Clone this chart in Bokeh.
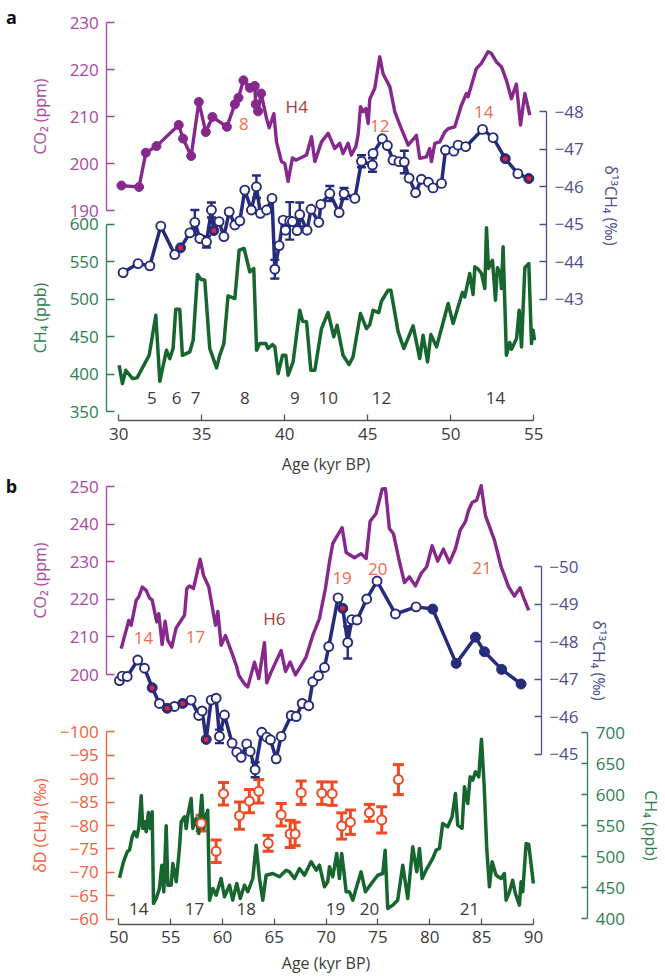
from bokeh.plotting import figure
from bokeh.models import Range1d, LinearAxis, FixedTicker, ColumnDataSource, Whisker, TeeHead, Label
from bokeh.layouts import column
from bokeh.embed import file_html
from bokeh.resources import INLINE

# ---------------- data: panel a ----------------
co2_a_age = [30.16, 31.22, 31.63, 32.27, 33.61, 33.87, 34.36, 34.82, 35.24, 35.64, 36.51, 36.99, 37.21, 37.51,
             37.89, 38.19, 38.25, 38.39, 38.57,
             38.90, 39.06, 39.34, 39.50, 39.80, 40.00, 40.20, 40.46, 40.66, 41.31, 41.61, 41.81, 42.21, 42.61,
             43.01, 43.31, 43.51, 43.81, 44.01, 44.28, 44.42, 44.56, 44.72, 44.88, 45.02, 45.12, 45.42, 45.72,
             45.92, 46.33, 46.63, 46.93, 47.43, 47.93, 48.13, 48.53, 48.73, 48.83, 49.04, 49.34, 49.64, 49.84,
             50.24, 50.64, 50.94, 51.04, 51.54, 51.84, 52.25, 52.45, 52.75, 53.05, 53.35, 53.65, 53.95, 54.20,
             54.46, 54.76]
co2_a_ppm = [195.3, 195.0, 202.3, 203.7, 208.2, 205.3, 201.6, 213.1, 206.7, 209.9, 207.8, 212.6, 214.0, 217.7,
             216.1, 216.5, 212.6, 211.1, 214.9,
             209.6, 207.6, 210.6, 204.6, 200.4, 200.0, 196.2, 201.2, 200.7, 201.8, 205.7, 200.4, 204.6, 206.4,
             203.2, 204.3, 202.1, 204.3, 201.8, 203.6, 206.2, 212.1, 211.0, 211.7, 208.5, 213.7, 216.0, 222.7,
             219.1, 216.3, 211.0, 208.2, 203.9, 206.0, 201.1, 201.4, 203.2, 200.4, 204.3, 204.6, 206.7, 207.4,
             207.8, 212.4, 214.9, 214.2, 220.2, 221.3, 223.8, 223.4, 221.6, 220.6, 217.7, 213.8, 216.9, 208.2,
             214.9, 210.3]
co2_a_n_markers = 19

d13_a_age = [30.26, 31.16, 31.87, 32.53, 33.37, 33.72, 34.28, 34.58, 34.88, 35.28, 35.58, 35.72, 36.04, 36.33,
             36.65, 36.99, 37.29, 37.59, 37.99, 38.29, 38.53, 38.90, 39.23, 39.40, 39.66, 39.90, 40.04, 40.30,
             40.46, 40.74, 40.90, 41.34, 41.58, 42.05, 42.17, 42.71, 43.27, 43.57, 44.22, 44.62, 45.28, 45.32,
             45.87, 46.18, 46.52, 46.88, 47.20, 47.49, 47.88, 48.23, 48.65, 48.93, 49.44, 49.68, 50.18, 50.44,
             50.90, 51.91, 52.55, 53.28, 54.04, 54.70]
d13_a_val = [-43.71, -43.95, -43.89, -44.95, -44.19, -44.37, -44.77, -45.05, -44.62, -44.53, -45.38, -44.83,
             -45.07, -44.67, -45.33, -44.98, -45.09, -45.91, -45.38, -46.00, -45.29, -45.38, -45.69, -43.80,
             -44.43, -45.11, -44.84, -45.09, -45.07, -44.83, -45.26, -44.84, -45.40, -45.05, -45.53, -45.82,
             -45.31, -45.82, -45.69, -46.68, -46.58, -46.89, -47.28, -47.10, -46.71, -46.67, -46.66, -46.23,
             -45.84, -46.20, -46.12, -45.97, -46.09, -46.98, -46.95, -47.11, -47.07, -47.53, -47.31, -46.75,
             -46.35, -46.22]
d13_a_err = [0, 0, 0, 0, 0, 0, 0, 0.33, 0, 0.15, 0.2, 0, 0, 0, 0, 0, 0, 0, 0, 0.3, 0, 0, 0, 0.25, 0, 0, 0, 0.5,
             0, 0, 0.32, 0, 0, 0, 0, 0.2, 0, 0.15, 0, 0.16, 0.18, 0, 0, 0, 0, 0, 0.3, 0, 0, 0, 0, 0, 0, 0, 0, 0,
             0, 0, 0, 0, 0, 0]
d13_a_kind = ["o"] * 62
for _i in (5, 11, 59, 61):
    d13_a_kind[_i] = "r"

ch4_a_age = [30.02, 30.22, 30.42, 30.83, 31.10, 31.83, 32.23, 32.47, 32.87, 33.07, 33.27, 33.43, 33.67, 33.83,
             34.28, 34.48, 34.74, 34.94, 35.18, 35.48, 35.89, 36.08, 36.33, 36.58, 36.99, 37.25, 37.55, 37.89,
             38.13, 38.30, 38.49, 38.86, 38.99, 39.26, 39.40, 39.60, 39.86, 40.06, 40.20, 40.50, 40.90, 41.07,
             41.31, 41.57, 41.81, 42.21, 42.61, 42.95, 43.15, 43.51, 43.87, 44.11, 44.56, 44.92, 45.12, 45.32,
             45.66, 45.82, 46.22, 46.39, 46.83, 47.17, 47.73, 48.13, 48.33, 48.60, 48.80, 49.14, 49.44, 49.84,
             50.14, 50.70, 50.84, 51.14, 51.34, 51.45, 51.65, 51.85, 52.05, 52.15, 52.27, 52.51, 52.69, 52.81,
             52.99, 53.05, 53.15, 53.35, 53.55, 53.66, 53.96, 54.12, 54.26, 54.46, 54.70, 54.86, 54.96, 55.04]
ch4_a_ppb = [412, 387.6, 405.3, 394.3, 395.2, 425.3, 478.7, 390.7, 432, 420.9, 434.3, 486.7, 486.7, 425.3, 429.9,
             445.3, 533, 526.7, 525.3, 434.3, 408.5, 425.3, 440.9, 504.5, 500.9, 565.3, 567.6, 536.5, 540.9, 432,
             440.9, 440.9, 434.3, 439.6, 436.5, 400.9, 425.3, 425.3, 398.7, 416.5, 485.3, 470.7, 469.9, 405.3,
             405.3, 460.9, 482.3, 449.9, 465.3, 425.3, 412.9, 423.1, 480.9, 460.9, 466.3, 485.3, 482.3, 497.3,
             512, 512, 456.5, 434.3, 464.5, 420.9, 452, 416.5, 452.9, 436.5, 460.9, 494.3, 467.6, 509, 503.2,
             534.3, 506.3, 543.2, 540, 534.3, 514.3, 595.2, 541, 552, 498.7, 541.9, 534.3, 514.3, 569.8, 425.3,
             442.3, 433.3, 447.6, 485.3, 436.5, 541.9, 547.6, 440.9, 458.7, 445.3]

# event labels panel a
orange_a_txt = ["8", "12", "14"]
orange_a_x = [37.53, 45.72, 51.99]
orange_a_y = [208.3, 207.9, 210.9]          # CO2 ppm
heinrich_a = ("H4", 40.72, 212.1)
num_a_txt = ["5", "6", "7", "8", "9", "10", "12", "14"]
num_a_x = [31.99, 33.48, 34.62, 37.59, 40.60, 42.62, 45.83, 52.69]
num_a_y = 368                                # CH4 ppb

# ---------------- data: panel b ----------------
co2_b_age = [50.23, 50.96, 51.19, 51.68, 51.93, 52.26, 52.64, 52.96, 53.22, 53.66, 53.86, 54.18, 54.47, 54.73,
             55.11, 55.53, 56.34, 56.56, 56.82, 57.20, 57.85, 58.17, 58.68, 59.07, 59.33, 59.55, 59.87, 60.29,
             60.99, 61.38, 61.57, 62.12, 62.44, 63.09, 63.50, 64.05, 64.27, 64.70, 65.66, 66.08, 66.53, 67.04,
             67.59, 68.07, 68.71, 69.35, 69.93, 70.32, 70.64, 71.54, 71.93, 72.73, 73.37, 73.86, 74.24, 74.82,
             75.40, 75.72, 76.10, 76.49, 77.00, 77.55, 78.03, 78.61, 79.16, 79.70, 80.22, 80.76, 81.31, 81.89,
             82.47, 82.92, 83.43, 83.75, 84.08, 84.52, 84.95, 85.36, 86.23, 86.88, 87.61, 88.16, 88.71, 88.96,
             89.54]
co2_b_ppm = [206.9, 214.4, 213.1, 219.8, 220.7, 223.3, 222.4, 220.4, 219.8, 214.0, 216.2, 208.0, 214.2, 209.1,
             207.3, 212.4, 215.8, 222.9, 223.6, 222.9, 230.7, 226.4, 223.3, 217.1, 213.1, 216.8, 207.8, 210.4,
             205.1, 202.0, 199.8, 197.5, 196.7, 203.3, 198.9, 208.5, 197.8, 200.7, 206.4, 200.8, 203.3, 199.9,
             202.4, 204.7, 210.4, 214.9, 222.9, 230.0, 234.9, 239.1, 232.5, 231.1, 232.2, 230.9, 240.8, 242.9,
             249.4, 249.5, 238.9, 237.5, 230.9, 224.5, 226.0, 223.6, 226.9, 228.7, 234.3, 230.2, 233.4, 229.8,
             233.5, 238.4, 240.7, 243.8, 245.8, 246.4, 250.3, 242.4, 235.8, 228.7, 223.3, 220.9, 223.1, 221.1,
             217.1]

d13_b_age = [50.07, 50.33, 50.81, 51.83, 52.48, 53.22, 53.92, 54.67, 55.37, 56.17, 56.98, 57.71, 58.04, 58.43,
             58.91, 59.39, 59.71, 60.19, 60.93, 61.38, 61.80, 62.34, 62.67, 63.15, 63.79, 64.27, 64.63, 65.18,
             65.66, 66.63, 67.11, 67.69, 68.32, 68.71, 69.26, 69.84, 70.25, 71.15, 71.60, 72.08, 72.47, 72.98,
             73.91, 74.91, 76.68, 78.67, 80.28, 82.54, 84.40, 85.27, 86.93, 88.80]
d13_b_val = [-46.96, -47.08, -47.07, -47.51, -47.29, -46.77, -46.35, -46.22, -46.27, -46.35, -46.44, -46.03,
             -46.15, -45.39, -46.44, -46.49, -45.47, -46.04, -45.29, -45.05, -44.91, -45.27, -45.07, -44.58,
             -45.58, -45.45, -45.38, -44.87, -45.47, -46.03, -46.00, -46.35, -46.29, -46.93, -47.09, -47.31,
             -47.87, -49.17, -48.89, -47.98, -48.59, -48.58, -49.14, -49.62, -48.74, -48.93, -48.87, -47.42,
             -48.12, -47.73, -47.26, -46.87]
d13_b_err = [0] * 52
d13_b_err[16] = 0.18
d13_b_err[23] = 0.2
d13_b_err[39] = 0.43
d13_b_kind = ["o"] * 46 + ["f"] * 6
for _i in (5, 7, 9, 13, 38):
    d13_b_kind[_i] = "r"

dD_age = [57.95, 59.39, 60.10, 61.64, 62.60, 63.50, 64.41, 65.66, 66.53, 67.01, 67.59, 69.58, 70.58, 71.50,
          72.34, 74.17, 75.36, 76.97]
dD_val = [-80.5, -74.5, -86.8, -82.1, -85.2, -87.3, -76.2, -82.3, -78.2, -78.2, -87.0, -86.9, -86.8, -79.9,
          -80.7, -82.7, -81.2, -89.8]
dD_err = [1.7, 2.4, 2.4, 2.9, 2.5, 2.5, 1.7, 2.4, 2.9, 2.5, 2.5, 2.4, 2.5, 2.8, 2.6, 1.8, 2.8, 3.2]

ch4_b_age = [50.07, 50.45, 50.81, 51.03, 51.29, 51.51, 51.74, 51.93, 52.16, 52.31, 52.48, 52.64, 52.86, 53.03,
             53.22, 53.35, 53.61, 53.92, 54.15, 54.34, 54.57, 54.73, 55.05, 55.21, 55.54, 55.85, 56.02, 56.34,
             56.50, 56.66, 56.98, 57.14, 57.46, 57.71, 58.00, 58.20, 58.43, 58.58, 58.75, 59.07, 59.39, 59.87,
             60.19, 60.68, 60.99, 61.38, 61.71, 62.12, 62.44, 62.92, 63.25, 63.57, 63.89, 64.21, 64.85, 65.50,
             66.14, 66.46, 66.94, 67.43, 67.91, 68.55, 69.04, 69.35, 69.84, 70.15, 70.32, 70.64, 71.02, 71.28,
             71.50, 71.77, 71.93, 72.25, 72.57, 72.89, 73.37, 73.79, 74.49, 74.98, 75.46, 75.69, 75.94, 76.42,
             76.90, 77.39, 77.87, 78.35, 78.74, 79.00, 79.26, 79.64, 80.28, 80.61, 80.93, 81.24, 81.73, 82.15,
             82.47, 82.69, 83.11, 83.34, 83.66, 83.89, 84.14, 84.40, 84.72, 84.98, 85.24, 85.49, 85.75, 86.01,
             86.39, 86.88, 87.19, 87.36, 87.68, 87.99, 88.25, 88.64, 88.80, 88.96, 89.29, 89.54, 89.99]
ch4_b_ppb = [465.6, 491.5, 507.6, 510.2, 531.8, 539.8, 531.8, 546.3, 597.9, 545.2, 556.0, 539.8, 571.0, 545.2,
             572.1, 424.2, 432.3, 448.4, 486.0, 443.1, 549.5, 453.7, 453.7, 488.7, 459.2, 512.9, 556.0, 564.0,
             545.2, 566.6, 593.5, 545.2, 561.3, 537.1, 598.9, 545.2, 566.6, 574.7, 429.5, 448.4, 437.6, 464.5,
             435.0, 453.7, 429.5, 456.5, 432.3, 453.7, 443.1, 464.5, 518.3, 464.5, 429.5, 469.8, 472.6, 467.3,
             477.9, 475.3, 464.5, 480.6, 469.8, 491.5, 477.9, 486.0, 451.1, 459.2, 483.4, 467.3, 504.8, 464.5,
             504.8, 467.3, 443.1, 443.1, 429.5, 448.4, 475.3, 443.1, 459.2, 469.8, 472.6, 510.2, 416.1, 421.5,
             429.5, 486.0, 432.3, 515.6, 475.3, 512.9, 464.5, 477.9, 496.8, 510.2, 512.9, 553.2, 547.9, 564.0,
             601.6, 550.5, 545.2, 612.4, 585.5, 628.5, 623.1, 636.6, 628.5, 689.2, 615.0, 512.9, 451.1, 491.5,
             469.8, 464.5, 472.6, 429.5, 443.1, 461.8, 440.3, 421.5, 459.2, 443.1, 520.9, 519.4, 456.5]

orange_b_txt = ["14", "17", "19", "20", "21"]
orange_b_x = [52.38, 57.40, 71.54, 74.98, 85.04]
orange_b_y = [209.7, 210.0, 225.7, 228.2, 228.4]   # CO2 ppm
heinrich_b = ("H6", 65.01, 214.9)
num_b_txt = ["14", "17", "18", "19", "20", "21"]
num_b_x = [51.93, 57.30, 62.29, 70.90, 74.18, 83.83]
num_b_y = -62.1                                       # dD permil

# ---------------- styling ----------------
FONT = "Open Sans"
MINUS = "\u2212"
PURPLE_LINE = "#86288C"
PURPLE_AX = "#A8479F"
NAVY = "#262B7A"
NAVY_AX = "#4C5090"
GREEN_LINE = "#17652F"
GREEN_AX = "#2E7F4F"
ORANGE_TXT = "#F36B4C"
ORANGE_PT = "#EF4A23"
ORANGE_AX = "#F1603A"
HRED = "#A53B3B"
RED = "#E3213B"
GRAY = "#3B3B3B"
TICK_FS = "17px"
LAB_FS = "16px"

W = 662
OX = 1                       # page position of the layout's left edge (measured)
PA_TOP, PA_H = 2, 474
PB_TOP, PB_H = 476, 500


def xr(v1, X1, v2, X2):
    k = (v2 - v1) / (X2 - X1)
    return Range1d(start=v1 + (OX - X1) * k, end=v1 + (OX + W - X1) * k)


def yr(v1, Y1, v2, Y2, top, H):
    k = (v2 - v1) / (Y2 - Y1)
    return Range1d(start=v1 + (top + H - Y1) * k, end=v1 + (top - Y1) * k)


def xval(rng, X):
    return rng.start + (X - OX) * (rng.end - rng.start) / W


def yval(rng, Y, top, H):
    return rng.end + (Y - top) * (rng.start - rng.end) / H


def new_fig(xrng, yrng, H):
    p = figure(width=W, height=H, x_range=xrng, y_range=yrng, output_backend="svg",
               toolbar_location=None, x_axis_location=None, y_axis_location=None,
               min_border=0, outline_line_color=None, background_fill_color="white",
               border_fill_color="white")
    p.xgrid.visible = False
    p.ygrid.visible = False
    return p


def add_axis(p, side, color, ticks, label, fixed, range_name="default", tick_in=8,
             label_standoff=8, neg=False, text_color=None, standoff=8):
    kw = dict(fixed_location=fixed, bounds=(min(ticks), max(ticks)),
              ticker=FixedTicker(ticks=ticks), axis_label=label)
    if side in ("left", "right"):
        kw["y_range_name"] = range_name
    ax = LinearAxis(**kw)
    tc = text_color or color
    ax.axis_line_color = color
    ax.axis_line_width = 1.3
    ax.major_tick_line_color = color
    ax.major_tick_line_width = 1.3
    ax.major_tick_in = tick_in
    ax.major_tick_out = 0
    ax.minor_tick_line_color = None
    ax.major_label_text_color = tc
    ax.major_label_text_font = FONT
    ax.major_label_text_font_size = TICK_FS
    ax.major_label_standoff = standoff
    ax.axis_label_text_color = tc
    ax.axis_label_text_font = FONT
    ax.axis_label_text_font_size = LAB_FS
    ax.axis_label_text_font_style = "normal"
    ax.axis_label_standoff = label_standoff
    if neg:
        ax.major_label_overrides = {t: MINUS + str(abs(t)) for t in ticks}
    p.add_layout(ax, side)
    return ax


def text(p, s, x, y, color, range_name="default", size="17px"):
    p.add_layout(Label(x=x, y=y, text=s, y_range_name=range_name, text_color=color,
                       text_font=FONT, text_font_size=size, text_align="center",
                       text_baseline="middle"))


def d13_series(p, age, val, err, kind, rname):
    p.line(age, val, y_range_name=rname, line_color=NAVY, line_width=3.5, line_join="round")
    ex = [a for a, e in zip(age, err) if e > 0]
    if ex:
        src = ColumnDataSource(dict(x=ex,
                                    lo=[v - e for v, e in zip(val, err) if e > 0],
                                    hi=[v + e for v, e in zip(val, err) if e > 0]))
        p.add_layout(Whisker(source=src, base="x", lower="lo", upper="hi", dimension="height",
                             y_range_name=rname, line_color=NAVY, line_width=2.4,
                             upper_head=TeeHead(size=9, line_color=NAVY, line_width=2.4),
                             lower_head=TeeHead(size=9, line_color=NAVY, line_width=2.4)))
    xs_o = [a for a, k in zip(age, kind) if k == "o"]
    ys_o = [v for v, k in zip(val, kind) if k == "o"]
    p.scatter(xs_o, ys_o, y_range_name=rname, size=9, marker="circle", fill_color="white",
              line_color=NAVY, line_width=1.9)
    xs_f = [a for a, k in zip(age, kind) if k in ("f", "r")]
    ys_f = [v for v, k in zip(val, kind) if k in ("f", "r")]
    p.scatter(xs_f, ys_f, y_range_name=rname, size=10, marker="circle", fill_color=NAVY,
              line_color=NAVY, line_width=1)
    xs_r = [a for a, k in zip(age, kind) if k == "r"]
    ys_r = [v for v, k in zip(val, kind) if k == "r"]
    p.scatter(xs_r, ys_r, y_range_name=rname, size=5, marker="circle", fill_color=RED,
              line_color=None)


# ================= panel a =================
xa = xr(30, 119.3, 55, 534.3)
co2a = yr(230, 24, 190, 212, PA_TOP, PA_H)
ch4a = yr(600, 225.7, 350, 413.3, PA_TOP, PA_H)
d13a = yr(-48, 113.3, -43, 300.7, PA_TOP, PA_H)
pa = new_fig(xa, co2a, PA_H)
pa.extra_y_ranges = {"ch4": ch4a, "d13": d13a}

left_a = xval(xa, 107.3)
right_a = xval(xa, 547)
add_axis(pa, "left", PURPLE_AX, [190, 200, 210, 220, 230], "CO\u2082 (ppm)", left_a, label_standoff=15)
add_axis(pa, "left", GREEN_AX, [350, 400, 450, 500, 550, 600], "CH\u2084 (ppb)", left_a, "ch4",
         label_standoff=15)
add_axis(pa, "right", NAVY_AX, [-48, -47, -46, -45, -44, -43], "\u03b4\u00b9\u00b3CH\u2084 (\u2030)",
         right_a, "d13", tick_in=7, neg=True, label_standoff=13)
add_axis(pa, "below", "#555555", [30, 35, 40, 45, 50, 55], "Age (kyr BP)",
         yval(co2a, 422.3, PA_TOP, PA_H), tick_in=6, label_standoff=10, text_color=GRAY, standoff=7)

pa.line(ch4_a_age, ch4_a_ppb, y_range_name="ch4", line_color=GREEN_LINE, line_width=3.5, line_join="round")
d13_series(pa, d13_a_age, d13_a_val, d13_a_err, d13_a_kind, "d13")
pa.line(co2_a_age, co2_a_ppm, line_color=PURPLE_LINE, line_width=3.4, line_join="round")
pa.scatter(co2_a_age[:co2_a_n_markers], co2_a_ppm[:co2_a_n_markers], size=9, marker="circle",
           fill_color=PURPLE_LINE, line_color=PURPLE_LINE)

for s, x, y in zip(orange_a_txt, orange_a_x, orange_a_y):
    text(pa, s, x, y, ORANGE_TXT)
text(pa, heinrich_a[0], heinrich_a[1], heinrich_a[2], HRED)
for s, x in zip(num_a_txt, num_a_x):
    text(pa, s, x, num_a_y, GRAY, "ch4")
pa.add_layout(Label(x=11, y=PA_H - 16, x_units="screen", y_units="screen", text="a", text_font=FONT,
                    text_font_size="18px", text_font_style="bold", text_color="#111111",
                    text_align="center", text_baseline="middle"))

# ================= panel b =================
xb = xr(50, 119.3, 90, 534)
co2b = yr(250, 488.3, 200, 676, PB_TOP, PB_H)
d13b = yr(-50, 568.3, -45, 755.5, PB_TOP, PB_H)
dDb = yr(-100, 733.3, -60, 920.7, PB_TOP, PB_H)
ch4b = yr(700, 734, 400, 920, PB_TOP, PB_H)
pb = new_fig(xb, co2b, PB_H)
pb.extra_y_ranges = {"d13": d13b, "dD": dDb, "ch4": ch4b}

left_b = xval(xb, 107.3)
add_axis(pb, "left", PURPLE_AX, [200, 210, 220, 230, 240, 250], "CO\u2082 (ppm)", left_b, label_standoff=15)
add_axis(pb, "left", ORANGE_AX, [-100, -95, -90, -85, -80, -75, -70, -65, -60], "\u03b4D (CH\u2084) (\u2030)",
         left_b, "dD", neg=True, label_standoff=6)
add_axis(pb, "right", NAVY_AX, [-50, -49, -48, -47, -46, -45], "\u03b4\u00b9\u00b3CH\u2084 (\u2030)",
         xval(xb, 541.7), "d13", tick_in=7, neg=True, label_standoff=6)
add_axis(pb, "right", GREEN_AX, [400, 450, 500, 550, 600, 650, 700], "CH\u2084 (ppb)",
         xval(xb, 588.3), "ch4", tick_in=6, label_standoff=12)
add_axis(pb, "below", "#555555", [50, 55, 60, 65, 70, 75, 80, 85, 90], "Age (kyr BP)",
         yval(co2b, 925.5, PB_TOP, PB_H), tick_in=6, label_standoff=5, text_color=GRAY, standoff=7)

pb.line(ch4_b_age, ch4_b_ppb, y_range_name="ch4", line_color=GREEN_LINE, line_width=3.5, line_join="round")
dsrc = ColumnDataSource(dict(x=dD_age, y=dD_val, lo=[v - e for v, e in zip(dD_val, dD_err)],
                             hi=[v + e for v, e in zip(dD_val, dD_err)]))
pb.add_layout(Whisker(source=dsrc, base="x", lower="lo", upper="hi", dimension="height", y_range_name="dD",
                      line_color=ORANGE_PT, line_width=3,
                      upper_head=TeeHead(size=11, line_color=ORANGE_PT, line_width=3),
                      lower_head=TeeHead(size=11, line_color=ORANGE_PT, line_width=3)))
pb.scatter("x", "y", source=dsrc, y_range_name="dD", size=9, marker="circle", fill_color="white",
           line_color=ORANGE_PT, line_width=2)
d13_series(pb, d13_b_age, d13_b_val, d13_b_err, d13_b_kind, "d13")
pb.line(co2_b_age, co2_b_ppm, line_color=PURPLE_LINE, line_width=3.4, line_join="round")

for s, x, y in zip(orange_b_txt, orange_b_x, orange_b_y):
    text(pb, s, x, y, ORANGE_TXT)
text(pb, heinrich_b[0], heinrich_b[1], heinrich_b[2], HRED)
for s, x in zip(num_b_txt, num_b_x):
    text(pb, s, x, num_b_y, GRAY, "dD")
pb.add_layout(Label(x=11, y=PB_H - 11, x_units="screen", y_units="screen", text="b", text_font=FONT,
                    text_font_size="18px", text_font_style="bold", text_color="#111111",
                    text_align="center", text_baseline="middle"))

layout = column(pa, pb, spacing=0)
open("out.html", "w").write(file_html(layout, INLINE))
